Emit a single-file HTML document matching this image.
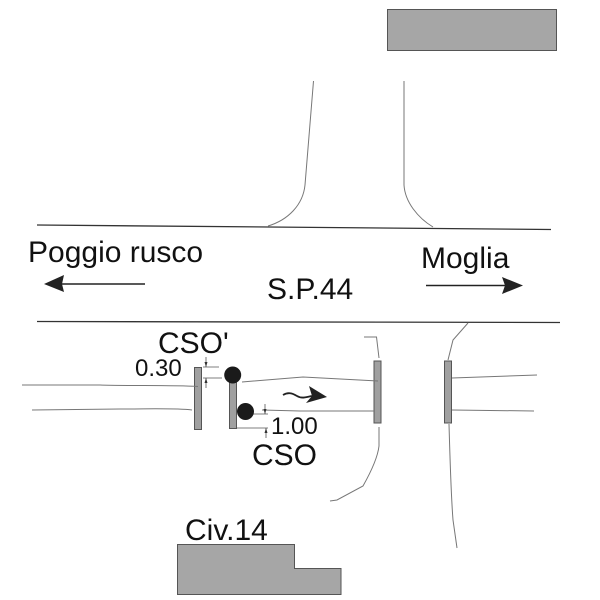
<!DOCTYPE html>
<html>
<head>
<meta charset="utf-8">
<style>
html,body{margin:0;padding:0;background:#fff;width:600px;height:600px;overflow:hidden}
svg{display:block}
text{font-family:"Liberation Sans",sans-serif;fill:#111}
</style>
</head>
<body>
<svg width="600" height="600" viewBox="0 0 600 600" xmlns="http://www.w3.org/2000/svg">
<rect width="600" height="600" fill="#fff"/>
<!-- buildings -->
<rect x="387.500" y="9.500" width="169" height="41" fill="#a6a6a6" stroke="#555" stroke-width="1"/>
<path d="M177.500 544.500H294.500V568.500H341V594.500H177.500Z" fill="#a6a6a6" stroke="#555" stroke-width="1"/>
<!-- main road -->
<path d="M37 225L551 229.500" stroke="#333" stroke-width="1.300" fill="none"/>
<path d="M37 321.500L560 322.500" stroke="#333" stroke-width="1.300" fill="none"/>
<!-- crossings -->
<rect x="194.500" y="367.500" width="7" height="62" fill="#a0a0a0" stroke="#555" stroke-width="1"/>
<rect x="229.500" y="382" width="7" height="46.500" fill="#a0a0a0" stroke="#555" stroke-width="1"/>
<rect x="374" y="361" width="7" height="62" fill="#a0a0a0" stroke="#555" stroke-width="1"/>
<rect x="444.500" y="361" width="7" height="62" fill="#a0a0a0" stroke="#555" stroke-width="1"/>
<g fill="none" stroke="#777" stroke-width="1">
<!-- side road top -->
<path d="M313.500 81L305 185C303 205 288 220 268 226"/>
<path d="M404 81V185C405 202 418 218 433 227"/>
<!-- lower junction curbs -->
<path d="M364 337H376.500L379 358"/>
<path d="M379 427V446C378 455 372 470 363 486L337 500L330 501"/>
<path d="M468 323L453 340L448 360"/>
<path d="M449 424C450 460 451 495 453 520L457 548"/>
<!-- left lanes -->
<path d="M22 385H100C130 386 170 385 198 386.500"/>
<path d="M32 410L120 409C150 409 175 408 192 410"/>
<!-- central lanes -->
<path d="M242 382L303 377L378 381"/>
<path d="M262 410L300 411H374"/>
<!-- right lanes -->
<path d="M452 378L537 375"/>
<path d="M452 410L534 411"/>
</g>
<!-- dimension lines -->
<g fill="none" stroke="#555" stroke-width="0.800">
<path d="M203 367H219M203 378H222"/>
<path d="M206 357V367M206 378V388"/>
<path d="M237 428H268"/>
<path d="M253 414H268M265 404V414M266 428V438"/>
</g>
<g fill="#333">
<path d="M204.500 362H207.500L206 367Z"/>
<path d="M204.500 383H207.500L206 378Z"/>
<path d="M263.500 409H266.500L265 414Z"/>
<path d="M264.500 433H267.500L266 428Z"/>
</g>
<!-- points -->
<circle cx="232.700" cy="375" r="8.500" fill="#1a1a1a"/>
<circle cx="245.500" cy="411.500" r="8.500" fill="#1a1a1a"/>
<!-- direction arrows -->
<path d="M145 284H62" stroke="#222" stroke-width="1.500" fill="none"/>
<path d="M44 284L64 275L62 284L64 292Z" fill="#222"/>
<path d="M426 285.500H506" stroke="#222" stroke-width="1.500" fill="none"/>
<path d="M523 285.500L502 277L505 285.500L502 294Z" fill="#222"/>
<!-- flow arrow -->
<path d="M283 395C288 392 292 393 297 396C302 399 306 397 312 396" stroke="#222" stroke-width="1.800" fill="none"/>
<path d="M327 397L309 386L312 396L306 403Z" fill="#222"/>
<!-- labels -->
<text x="28" y="262" font-size="30">Poggio rusco</text>
<text x="421" y="268" font-size="30">Moglia</text>
<text x="267" y="299" font-size="30">S.P.44</text>
<text x="158" y="353" font-size="30">CSO'</text>
<text x="135" y="376" font-size="24">0.30</text>
<text x="271" y="434" font-size="24">1.00</text>
<text x="252" y="465" font-size="30">CSO</text>
<text x="185" y="540" font-size="30">Civ.14</text>
</svg>
</body>
</html>
